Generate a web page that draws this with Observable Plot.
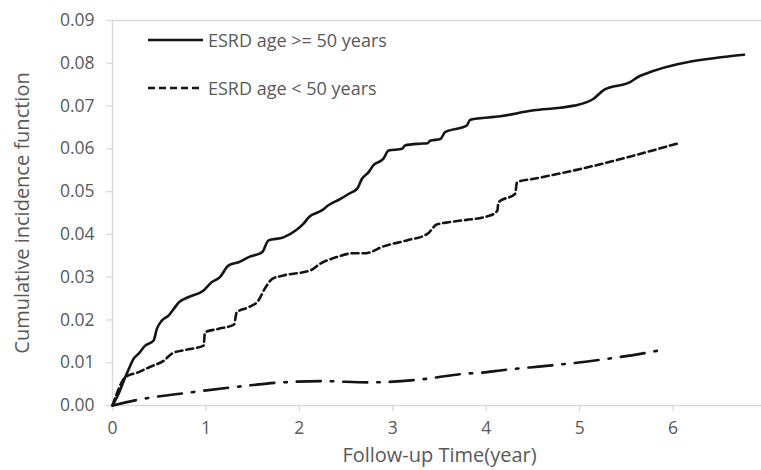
<!DOCTYPE html>
<html>
<head>
<meta charset="utf-8">
<script src="https://cdn.jsdelivr.net/npm/d3@7"></script>
<script src="https://cdn.jsdelivr.net/npm/@observablehq/plot@0.6"></script>
<style>
  body { margin: 0; background: #fff; }
  #wrap { position: relative; width: 761px; height: 470px; }
  .leg { position: absolute; left: 148px; font-family: "Open Sans", sans-serif; font-size: 18px; color: #595959; display: flex; align-items: center; white-space: nowrap; }
  .leg svg { margin-right: 5px; }
</style>
</head>
<body>
<div id="wrap"></div>
<script>
// Data
const seriesNames = ["ESRD age >= 50 years", "ESRD age < 50 years", "Other"];

const xOld = [0,0.064,0.136,0.19,0.225,0.28,0.35,0.44,0.475,0.53,0.60,0.67,0.71,0.81,0.975,1.06,1.15,1.24,1.35,1.47,1.60,1.67,1.83,1.96,2.045,2.10,2.24,2.31,2.44,2.53,2.62,2.67,2.74,2.79,2.90,2.955,3.10,3.13,3.29,3.37,3.40,3.51,3.56,3.79,3.83,4.15,4.51,4.79,4.94,5.15,5.26,5.54,5.65,6.76];
const yOld = [0,0.0027,0.0066,0.0093,0.0109,0.0121,0.014,0.0152,0.0179,0.0199,0.021,0.023,0.0241,0.0253,0.0269,0.0288,0.030,0.0327,0.0335,0.0348,0.0358,0.0386,0.0393,0.0409,0.0425,0.044,0.0456,0.0468,0.0483,0.0495,0.0507,0.053,0.0545,0.0561,0.0577,0.0596,0.060,0.0608,0.0612,0.0613,0.0619,0.0623,0.0639,0.0654,0.0668,0.0676,0.069,0.0696,0.0701,0.0717,0.0738,0.0756,0.0771,0.082];

const xYoung = [0,0.05,0.136,0.28,0.40,0.55,0.64,0.78,0.975,0.99,1.13,1.30,1.33,1.46,1.56,1.63,1.71,1.83,2.12,2.22,2.40,2.58,2.71,2.90,3.15,3.37,3.47,3.62,4.04,4.12,4.13,4.31,4.33,4.51,5.01,6.04];
const yYoung = [0,0.003,0.0066,0.0078,0.009,0.0105,0.0122,0.013,0.014,0.0171,0.0179,0.0189,0.0218,0.023,0.0245,0.0273,0.0296,0.0304,0.0316,0.0331,0.0347,0.0356,0.0356,0.0372,0.0386,0.0401,0.0423,0.0429,0.0444,0.0456,0.0475,0.0495,0.0522,0.053,0.0553,0.0612];

const xOther = [0,0.24,0.85,1.47,1.74,2.24,2.74,3.26,3.76,4.01,4.15,4.76,5.26,5.76,5.88];
const yOther = [0,0.0012,0.0031,0.0047,0.0053,0.0057,0.0054,0.006,0.0074,0.0078,0.0082,0.0095,0.0108,0.0125,0.013];

const xTicks = [0,1,2,3,4,5,6,7];
const yTicks = [0,0.01,0.02,0.03,0.04,0.05,0.06,0.07,0.08,0.09];
const xLabel = "Follow-up Time(year)";
const yLabel = "Cumulative incidence function";

const toRows = (xs, ys) => xs.map((x, i) => ({x, y: ys[i]}));
const old = toRows(xOld, yOld);
const young = toRows(xYoung, yYoung);
const other = toRows(xOther, yOther);

const ink = "#141414";
const axisGray = "#d9d9d9";
const textGray = "#595959";

const chart = Plot.plot({
  width: 761,
  height: 470,
  marginLeft: 112,
  marginRight: -5,
  marginTop: 20,
  marginBottom: 65,
  style: {fontFamily: "'Open Sans', sans-serif", fontSize: "17.5px", background: "#fff", overflow: "visible"},
  x: {domain: [0, 7]},
  y: {domain: [0, 0.09]},
  marks: [
    Plot.ruleY([0.09], {stroke: axisGray, strokeWidth: 1.3}),
    Plot.ruleY([0], {stroke: axisGray, strokeWidth: 1.5}),
    Plot.ruleX([0], {stroke: axisGray, strokeWidth: 1.5}),
    Plot.axisY({ticks: yTicks, tickFormat: d3.format(".2f"), tickSize: 6, tickPadding: 12, stroke: axisGray, fill: textGray, label: null, strokeWidth: 1.3}),
    Plot.axisX({ticks: xTicks, tickFormat: d3.format("d"), tickSize: 6, tickPadding: 10, stroke: axisGray, fill: textGray, label: null, strokeWidth: 1.3}),
    Plot.text([xLabel], {frameAnchor: "bottom", dy: 56, fill: textGray, fontSize: 20}),
    Plot.text([yLabel], {frameAnchor: "left", dx: -90, rotate: -90, textAnchor: "middle", fill: textGray, fontSize: 20}),
    Plot.line(other, {x: "x", y: "y", stroke: ink, strokeWidth: 2.6, strokeDasharray: "24,10,2.5,10", curve: "monotone-x"}),
    Plot.line(young, {x: "x", y: "y", stroke: ink, strokeWidth: 2.6, strokeDasharray: "7,4", curve: "monotone-x"}),
    Plot.line(old, {x: "x", y: "y", stroke: ink, strokeWidth: 2.6, curve: "monotone-x"})
  ]
});

const wrap = document.getElementById("wrap");
wrap.appendChild(chart);

// Legend
const legendItems = [
  {name: seriesNames[0], dash: null, top: 28},
  {name: seriesNames[1], dash: "7,4", top: 76}
];
for (const item of legendItems) {
  const div = document.createElement("div");
  div.className = "leg";
  div.style.top = item.top + "px";
  div.innerHTML = `<svg width="55" height="22"><line x1="0" x2="55" y1="11" y2="11" stroke="${ink}" stroke-width="2.6" ${item.dash ? `stroke-dasharray="${item.dash}"` : ""}/></svg><span>${item.name}</span>`;
  wrap.appendChild(div);
}
</script>
</body>
</html>
